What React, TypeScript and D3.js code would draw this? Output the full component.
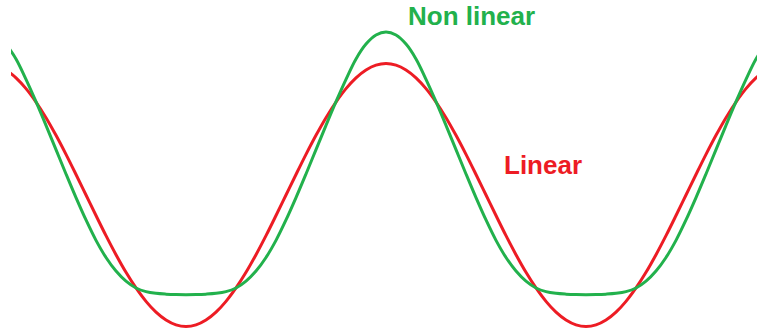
import React from "react";
import * as d3 from "d3";

// Phase samples (degrees), one every 9°
const theta: number[] = [
  18, 27, 36, 45, 54, 63, 72, 81, 90, 99, 108, 117, 126, 135, 144, 153, 162, 171, 180,
  189, 198, 207, 216, 225, 234, 243, 252, 261, 270, 279, 288, 297, 306, 315, 324, 333, 342, 351,
  360,
  369, 378, 387, 396, 405, 414, 423, 432, 441, 450, 459, 468, 477, 486, 495, 504, 513, 522, 531, 540,
  549, 558, 567, 576, 585, 594, 603, 612, 621, 630, 639, 648, 657, 666, 675, 684, 693, 702,
];

// Linear response (red)
const linear: number[] = [
  0.951, 0.891, 0.809, 0.707, 0.588, 0.454, 0.309, 0.156, 0, -0.156, -0.309, -0.454, -0.588, -0.707, -0.809, -0.891, -0.951, -0.988, -1,
  -0.988, -0.951, -0.891, -0.809, -0.707, -0.588, -0.454, -0.309, -0.156, 0, 0.156, 0.309, 0.454, 0.588, 0.707, 0.809, 0.891, 0.951, 0.988,
  1,
  0.988, 0.951, 0.891, 0.809, 0.707, 0.588, 0.454, 0.309, 0.156, 0, -0.156, -0.309, -0.454, -0.588, -0.707, -0.809, -0.891, -0.951, -0.988, -1,
  -0.988, -0.951, -0.891, -0.809, -0.707, -0.588, -0.454, -0.309, -0.156, 0, 0.156, 0.309, 0.454, 0.588, 0.707, 0.809, 0.891, 0.951,
];

// Non linear response (green)
const nonLinear: number[] = [
  1.148, 1.035, 0.88, 0.71, 0.53, 0.345, 0.16, -0.02, -0.19, -0.345, -0.475, -0.578, -0.655, -0.707, -0.735, -0.748, -0.754, -0.757, -0.758,
  -0.757, -0.754, -0.748, -0.735, -0.707, -0.655, -0.578, -0.475, -0.345, -0.19, -0.02, 0.16, 0.345, 0.53, 0.71, 0.88, 1.035, 1.148, 1.217,
  1.24,
  1.217, 1.148, 1.035, 0.88, 0.71, 0.53, 0.345, 0.16, -0.02, -0.19, -0.345, -0.475, -0.578, -0.655, -0.707, -0.735, -0.748, -0.754, -0.757, -0.758,
  -0.757, -0.754, -0.748, -0.735, -0.707, -0.655, -0.578, -0.475, -0.345, -0.19, -0.02, 0.16, 0.345, 0.53, 0.71, 0.88, 1.035, 1.148,
];

const labels = { nonLinear: "Non linear", linear: "Linear" };

const W = 757;
const H = 335;
const RED = "#ED1C24";
const GREEN = "#22B14C";

export default function App() {
  const x = d3.scaleLinear().domain([0, 720]).range([-14, 786]);
  const y = d3.scaleLinear().domain([-1, 1]).range([326.5, 63.5]);

  const mk = (vals: number[]) =>
    d3
      .line<number>()
      .x((_, i) => x(theta[i]))
      .y((v) => y(v))
      .curve(d3.curveCatmullRom.alpha(0.5))(vals) || "";

  const font = "'Liberation Sans', Arial, Helvetica, sans-serif";

  return (
    <svg
      width={W}
      height={H}
      style={{ position: "absolute", left: 0, top: 0, background: "#fff" }}
    >
      <defs>
        <clipPath id="plotClip">
          <rect x={11} y={0} width={W - 11} height={H} />
        </clipPath>
      </defs>
      <rect x={0} y={0} width={W} height={H} fill="#fff" />
      <g clipPath="url(#plotClip)">
        <path d={mk(linear)} fill="none" stroke={RED} strokeWidth={3} />
        <path d={mk(nonLinear)} fill="none" stroke={GREEN} strokeWidth={3} />
      </g>
      <text x={408} y={25} fill={GREEN} fontFamily={font} fontWeight="bold" fontSize={26}>
        {labels.nonLinear}
      </text>
      <text x={504} y={174} fill={RED} fontFamily={font} fontWeight="bold" fontSize={26}>
        {labels.linear}
      </text>
    </svg>
  );
}
